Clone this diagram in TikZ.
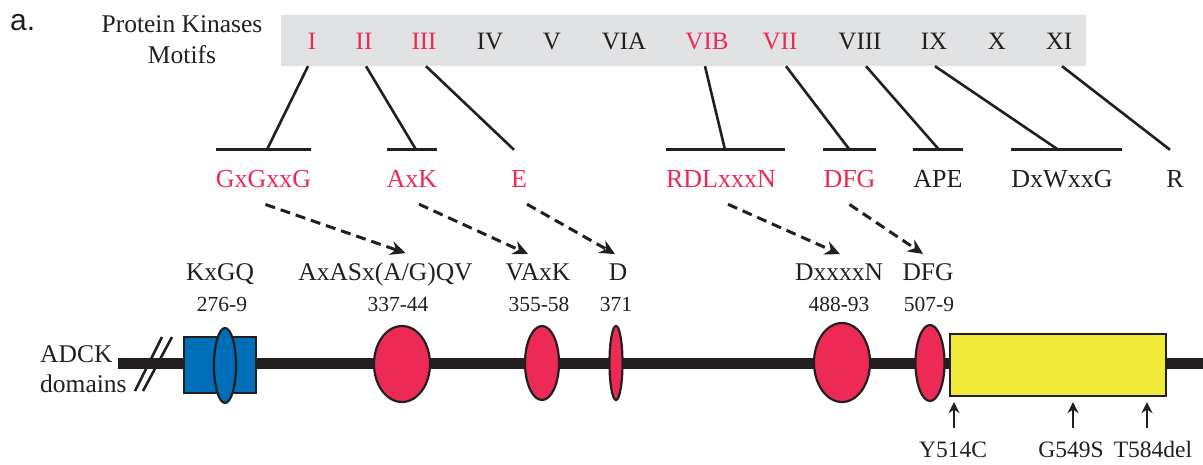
\documentclass[tikz,border=0pt]{standalone}
\usepackage{fontspec}
\setmainfont{Liberation Serif}
\newfontfamily\panelsans{Liberation Sans}
\usepackage{xcolor}
\usepackage{tikz}
\usetikzlibrary{shapes.geometric, arrows.meta, positioning}
\definecolor{MotifRed}{HTML}{EC2A55}
\definecolor{DomainBlue}{HTML}{006EB7}
\definecolor{KinaseYellow}{HTML}{F2EA38}
\definecolor{BoxGray}{HTML}{E1E2E4}
\definecolor{InkBlack}{HTML}{231F20}

\begin{document}
\begin{tikzpicture}[x=1pt, y=-1pt,
  motif_box/.style={fill=BoxGray, minimum width=805pt, minimum height=51pt, inner sep=0pt},
  numeral/.style={anchor=base, inner sep=0pt, font=\fontsize{25}{30}\selectfont},
  motif/.style={anchor=base, inner sep=0pt, font=\fontsize{26}{31}\selectfont},
  site/.style={anchor=base, inner sep=0pt, font=\fontsize{25.5}{30}\selectfont, text=InkBlack},
  residue/.style={anchor=base, inner sep=0pt, font=\fontsize{21.5}{26}\selectfont, text=InkBlack},
  mutation/.style={anchor=base, inner sep=0pt, font=\fontsize{23.5}{28}\selectfont, text=InkBlack},
  link/.style={InkBlack, line width=2.6pt},
  tee_bar/.style={InkBlack, line width=3pt},
  map_arrow/.style={InkBlack, line width=3pt, dash pattern=on 10pt off 6pt,
    -{Stealth[length=15pt, width=14pt]}},
  mut_arrow/.style={InkBlack, line width=2.6pt, -{Stealth[length=11pt, width=11pt]}},
  backbone/.style={InkBlack, line width=11pt},
  domain_shape/.style={draw=InkBlack, line width=2.2pt, inner sep=0pt},
  motif_oval/.style={domain_shape, ellipse, fill=MotifRed}
]
  \useasboundingbox (0,0) rectangle (1203,464);

  \node[anchor=base west, inner sep=0pt, text=InkBlack,
    font=\panelsans\fontsize{30}{32}\selectfont] (panel) at (10,30) {a.};
  \node[anchor=north, inner sep=0pt, align=center, text=InkBlack,
    font=\fontsize{25.5}{31}\selectfont] (pk_title) at (182,15) {Protein Kinases\\Motifs};

  % kinase subdomains
  \node[motif_box] (box) at (683.5,40.5) {};
  \foreach \name/\xpos/\col in {I/312/MotifRed, II/364/MotifRed, III/424/MotifRed,
      IV/490/InkBlack, V/552/InkBlack, VIA/624/InkBlack, VIB/707/MotifRed,
      VII/780/MotifRed, VIII/860/InkBlack, IX/934/InkBlack, X/997/InkBlack, XI/1059/InkBlack}
    \node[numeral, text=\col] (\name) at (\xpos,49) {\name};

  % conserved motifs
  \foreach \name/\txt/\xpos/\col in {gxgxxg/GxGxxG/263.5/MotifRed, axk/AxK/412/MotifRed,
      e/E/519/MotifRed, rdl/RDLxxxN/721/MotifRed, dfg/DFG/849.5/MotifRed,
      ape/APE/938/InkBlack, dxw/DxWxxG/1062/InkBlack, r/R/1175/InkBlack}
    \node[motif, text=\col] (\name) at (\xpos,187) {\txt};

  \foreach \mot/\ext in {gxgxxg/0pt, axk/0pt, rdl/9pt, dfg/0pt, ape/0pt, dxw/9pt}
    \draw[tee_bar] ([yshift=20pt]\mot.north west) -- ([xshift=\ext, yshift=20pt]\mot.north east);

  \foreach \num/\dx/\mot/\ex in {I/-4pt/gxgxxg/3.5pt, II/2pt/axk/4pt, III/2pt/e/-5pt,
      VIB/-2pt/rdl/4pt, VII/6pt/dfg/0pt, VIII/6pt/ape/1pt, IX/1pt/dxw/-4pt, XI/3pt/r/-5pt}
    \draw[link] ([xshift=\dx]\num.south |- box.south) -- ([xshift=\ex, yshift=20pt]\mot.north);

  % ADCK sites
  \node[site] (kxgq) at (220,280) {KxGQ};
  \node[site] (axas) at (385.5,280) {AxASx(A/G)QV};
  \node[site] (vaxk) at (538,280) {VAxK};
  \node[site] (d) at (618,280) {D};
  \node[site] (dxxxxn) at (839,280) {DxxxxN};
  \node[site] (dfgsite) at (928,280) {DFG};

  \node[residue] (res_kxgq) at (222,311) {276-9};
  \node[residue] (res_axas) at (398,311) {337-44};
  \node[residue] (res_vaxk) at (539,311) {355-58};
  \node[residue] (res_d) at (616,311) {371};
  \node[residue] (res_dxxxxn) at (839,311) {488-93};
  \node[residue] (res_dfg) at (929,311) {507-9};

  \foreach \src/\sdx/\dst/\ddx in {gxgxxg/2pt/axas/20pt, axk/7pt/vaxk/-10pt, e/8pt/d/-3pt,
      rdl/7pt/dxxxxn/1pt, dfg/0pt/dfgsite/-5pt}
    \draw[map_arrow] ([xshift=\sdx, yshift=-17pt]\src.south) -- ([xshift=\ddx, yshift=9pt]\dst.north);

  % protein backbone
  \node[anchor=north west, inner sep=0pt, align=left, text=InkBlack,
    font=\fontsize{25.5}{30}\selectfont] (adck) at (40,345) {ADCK\\domains};
  \coordinate (bb_start) at (118,363.5);
  \coordinate (bb_end) at (1203,363.5);
  \draw[backbone] (bb_start) -- (bb_end);
  \draw[link] (162,337) -- (135,391);
  \draw[link] (172,337) -- (143,391);

  \node[domain_shape, rectangle, fill=DomainBlue, minimum width=72pt, minimum height=56pt] (kxgq_box) at (220,365) {};
  \node[domain_shape, ellipse, fill=DomainBlue, minimum width=22pt, minimum height=75pt] (kxgq_oval) at (225,365.5) {};
  \node[motif_oval, minimum width=56pt, minimum height=76pt] (oval_axas) at (402,364) {};
  \node[motif_oval, minimum width=34pt, minimum height=74pt] (oval_vaxk) at (542,363) {};
  \node[motif_oval, minimum width=13pt, minimum height=74pt] (oval_d) at (616,363) {};
  \node[motif_oval, minimum width=56pt, minimum height=79pt] (oval_dxxxxn) at (842,362.5) {};
  \node[motif_oval, minimum width=29pt, minimum height=76pt] (oval_dfg) at (930,363) {};
  \node[domain_shape, rectangle, fill=KinaseYellow, minimum width=216pt, minimum height=62pt] (kinase) at (1058,365) {};

  % patient mutations
  \node[mutation] (y514c) at (953,457) {Y514C};
  \node[mutation] (g549s) at (1071,457) {G549S};
  \node[mutation] (t584del) at (1153,457) {T584del};
  \foreach \mut/\dx in {y514c/1pt, g549s/2pt, t584del/-6pt}
    \draw[mut_arrow] ([xshift=\dx, yshift=13pt]\mut.north) -- ([xshift=\dx, yshift=-5pt]\mut.north |- kinase.south);

\end{tikzpicture}
\end{document}
